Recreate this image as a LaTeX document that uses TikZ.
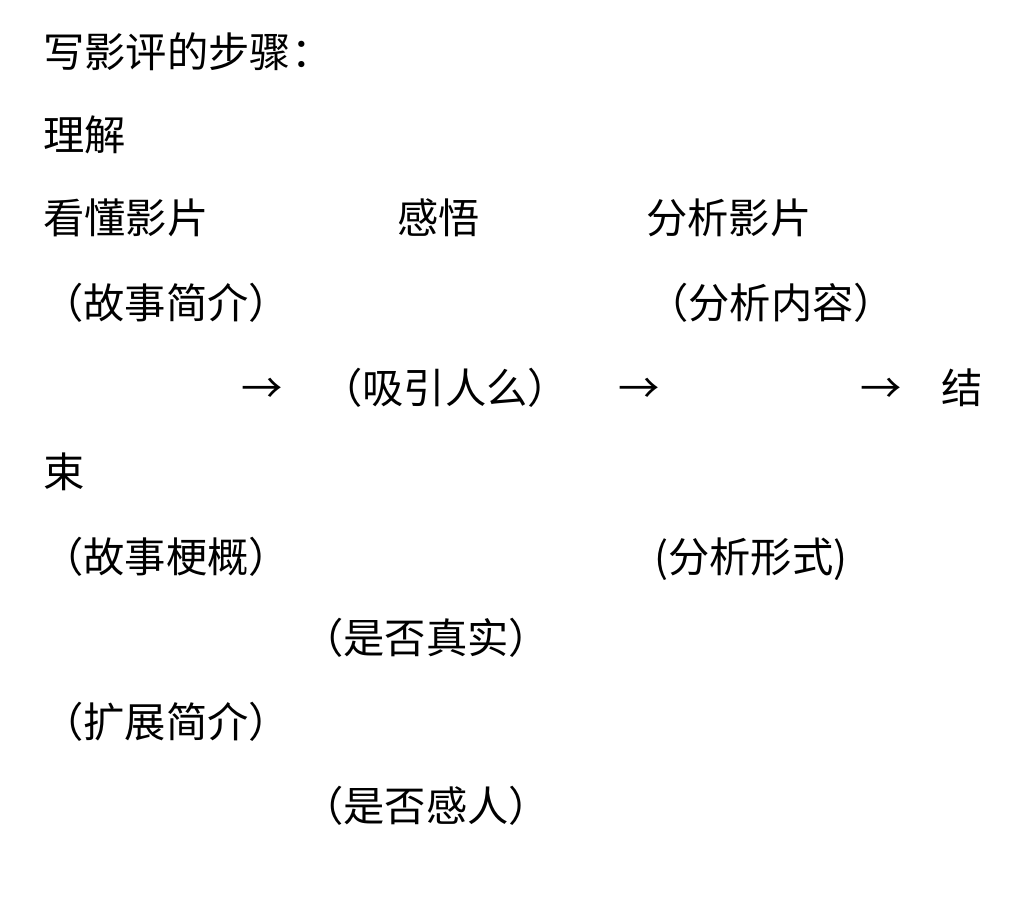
\documentclass[tikz,border=0pt]{standalone}
\usepackage{fontspec}
\setmainfont{Noto Sans CJK SC}
\begin{document}
\begin{tikzpicture}[x=1pt,y=-1pt,
  txt/.style={anchor=base west,inner sep=0pt,font=\fontsize{41.3pt}{48pt}\selectfont,text=black}]
\useasboundingbox[fill=white] (0,0) rectangle (1024,900);
\node[txt] (title) at (43,67) {写影评的步骤：};
\node[txt] (lijie) at (43,150) {理解};
\node[txt] (kd) at (43,233) {看懂影片};
\node[txt] (gw) at (397,233) {感悟};
\node[txt] (fx) at (646,233) {分析影片};
\node[txt] (gsjj) at (42,318) {（故事简介）};
\node[txt] (fxnr) at (647,318) {（分析内容）};
\node[txt] (a1) at (241,403) {→};
\node[txt] (xy) at (321,403) {（吸引人么）};
\node[txt] (a2) at (618,403) {→};
\node[txt] (a3) at (860,403) {→};
\node[txt] (jie) at (941,403) {结};
\node[txt] (shu) at (43,487) {束};
\node[txt] (gsgg) at (42,572) {（故事梗概）};
\node[txt] (fxxs) at (654,572) {(分析形式)};
\node[txt] (sfzs) at (302,653) {（是否真实）};
\node[txt] (kzjj) at (42,737) {（扩展简介）};
\node[txt] (sfgr) at (302,821) {（是否感人）};
\end{tikzpicture}
\end{document}
